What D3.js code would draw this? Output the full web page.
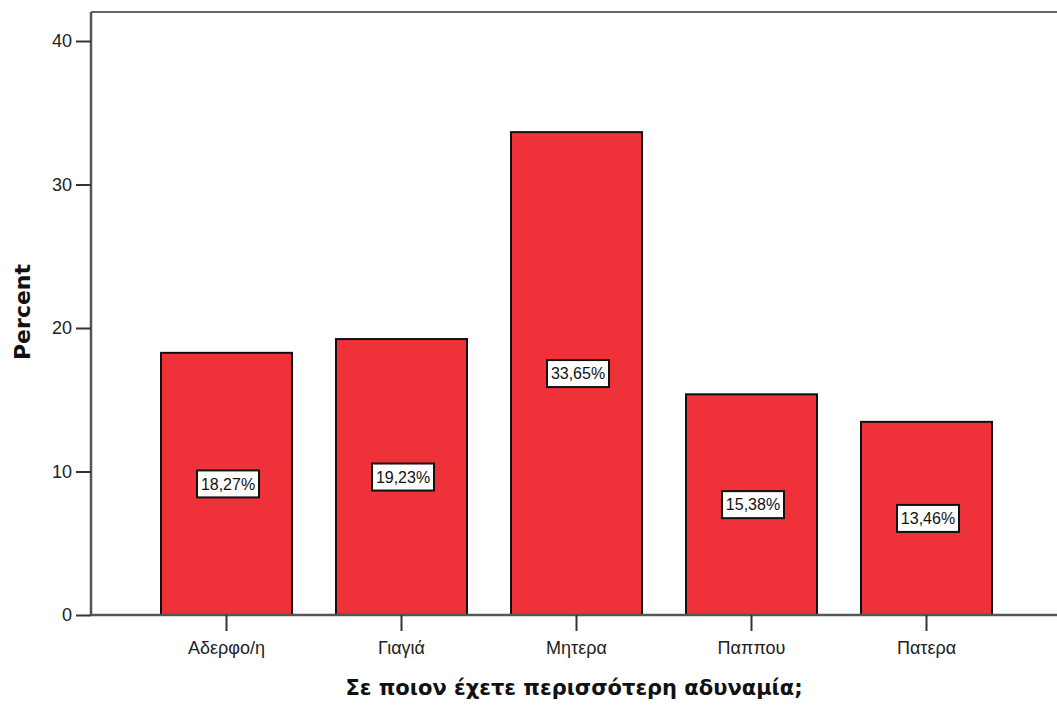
<!DOCTYPE html>
<html><head><meta charset="utf-8">
<script src="https://cdn.jsdelivr.net/npm/d3@7/dist/d3.min.js"></script>
<style>body{margin:0;background:#fff}</style>
</head><body>
<svg id="c" width="1057" height="706"></svg>
<script>
const categories = ["Αδερφο/η", "Γιαγιά", "Μητερα", "Παππου", "Πατερα"];
const percents = [18.27, 19.23, 33.65, 15.38, 13.46];
const valueLabels = ["18,27%", "19,23%", "33,65%", "15,38%", "13,46%"];
const yTicks = [0, 10, 20, 30, 40];
const xTitle = "Σε ποιον έχετε περισσότερη αδυναμία;";
const yTitle = "Percent";

const svg = d3.select("#c");
const mLeft = 91, mTop = 12, mBottom = 615, mRight = 1057;
const tickFont = "'Liberation Sans', Arial, sans-serif";
const titleFont = "'DejaVu Sans', Verdana, sans-serif";

const y = d3.scaleLinear().domain([0, 40]).range([mBottom, 41]);
const x = d3.scaleBand().domain(categories).range([mLeft, 1062]).paddingInner(0.2514).paddingOuter(0.4);

// frame top line
svg.append("line").attr("x1", mLeft).attr("x2", mRight).attr("y1", mTop).attr("y2", mTop)
  .attr("stroke", "#666").attr("stroke-width", 2);

// bars
svg.selectAll("rect.bar").data(percents).join("rect")
  .attr("class", "bar")
  .attr("x", (d, i) => x(categories[i]))
  .attr("width", x.bandwidth())
  .attr("y", d => y(d))
  .attr("height", d => y(0) - y(d))
  .attr("fill", "#EF323A").attr("stroke", "#111").attr("stroke-width", 2);

// y axis
const ya = svg.append("g").attr("transform", `translate(${mLeft},0)`)
  .call(d3.axisLeft(y).tickValues(yTicks).tickSize(15).tickPadding(4).tickFormat(d3.format("d")));
ya.select(".domain").attr("d", `M0,${mTop}V${mBottom}`).attr("stroke", "#555").attr("stroke-width", 2.5);
ya.selectAll(".tick line").attr("stroke", "#333").attr("stroke-width", 2);
ya.selectAll(".tick text").attr("font-family", tickFont).attr("font-size", 18).attr("fill", "#222");

// x axis
const xa = svg.append("g").attr("transform", `translate(0,${mBottom})`)
  .call(d3.axisBottom(x).tickSize(16).tickPadding(10));
xa.select(".domain").attr("d", `M${mLeft},0H${mRight}`).attr("stroke", "#555").attr("stroke-width", 2.5);
xa.selectAll(".tick line").attr("stroke", "#333").attr("stroke-width", 2);
xa.selectAll(".tick text").attr("font-family", tickFont).attr("font-size", 18).attr("fill", "#222");

// value labels
const lg = svg.selectAll("g.lab").data(percents).join("g")
  .attr("class", "lab")
  .attr("transform", (d, i) => `translate(${x(categories[i]) + x.bandwidth() / 2 + 1.5},${y(d / 2)})`);
lg.append("rect").attr("x", -31).attr("y", -13.5).attr("width", 62).attr("height", 27)
  .attr("fill", "#fff").attr("stroke", "#111").attr("stroke-width", 2);
lg.append("text").attr("text-anchor", "middle").attr("dy", "0.36em")
  .attr("font-family", tickFont).attr("font-size", 16).attr("fill", "#111")
  .text((d, i) => valueLabels[i]);

// titles
svg.append("text").attr("x", 574).attr("y", 695).attr("text-anchor", "middle")
  .attr("font-family", titleFont).attr("font-weight", "bold").attr("font-size", 21).attr("fill", "#111")
  .text(xTitle);
svg.append("text").attr("transform", `translate(30,312) rotate(-90)`).attr("text-anchor", "middle")
  .attr("font-family", titleFont).attr("font-weight", "bold").attr("font-size", 22).attr("fill", "#111")
  .text(yTitle);
</script>
</body></html>
